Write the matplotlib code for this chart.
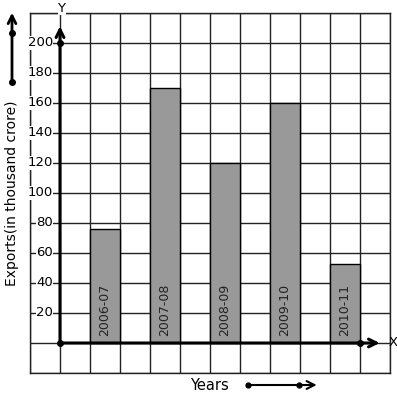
import matplotlib.pyplot as plt
import numpy as np

years = ['2006-07', '2007-08', '2008-09', '2009-10', '2010-11']
exports = [76, 170, 120, 160, 53]
bar_pos = [1.5, 3.5, 5.5, 7.5, 9.5]
y_ticks = [20, 40, 60, 80, 100, 120, 140, 160, 180, 200]

fig = plt.figure(figsize=(3.97, 3.99), dpi=100)
W, H = 397, 399
ax = fig.add_axes([30 / W, 1 - 373 / H, 360 / W, 360 / H])
ax.set_xlim(-1, 11)
ax.set_ylim(-20, 220)

# grid
ax.set_xticks(np.arange(-1, 12, 1))
ax.set_yticks(np.arange(-20, 221, 20))
ax.grid(True, color='#222222', linewidth=1)
ax.set_axisbelow(True)
ax.tick_params(length=0, labelbottom=False, labelleft=False)
for s in ax.spines.values():
    s.set_color('#222222')
    s.set_linewidth(1)

ax.bar(bar_pos, exports, width=1, color='#999999', edgecolor='black', linewidth=1, zorder=2)
for x, lab in zip(bar_pos, years):
    ax.text(x, 5, lab, rotation=90, ha='center', va='bottom', fontsize=9, color='#222222', zorder=3)

# axes with arrows
ax.annotate('', xy=(0, 213), xytext=(0, 0),
            arrowprops=dict(arrowstyle='->', lw=2.2, color='black', mutation_scale=14),
            annotation_clip=False, zorder=4)
ax.annotate('', xy=(10.75, 0), xytext=(0, 0),
            arrowprops=dict(arrowstyle='->', lw=2.2, color='black', mutation_scale=14),
            annotation_clip=False, zorder=4)
ax.plot([0, 0, 10], [0, 200, 0], 'o', color='black', markersize=4, zorder=5, clip_on=False)
ax.text(10.95, 0, 'X', ha='left', va='center', fontsize=9.5)
ax.text(0.05, 223, 'Y', ha='center', va='center', fontsize=9.5, clip_on=False,
        bbox=dict(facecolor='white', edgecolor='none', pad=0))

for v in y_ticks:
    ax.text(-0.23, v, str(v), ha='right', va='center', fontsize=9.5, zorder=3,
            bbox=dict(facecolor='white', edgecolor='none', pad=0.3))

fig.text(12 / W, 1 - 193 / H, 'Exports(in thousand crore)', rotation=90,
         ha='center', va='center', fontsize=10)

# decorative arrows
ax.annotate('', xy=(-1.6, 222), xytext=(-1.6, 174),
            arrowprops=dict(arrowstyle='->', lw=2, color='black', mutation_scale=14),
            annotation_clip=False)
ax.plot([-1.6, -1.6], [174, 207], 'o', color='black', markersize=4, clip_on=False)
ax.text(4.97, -28, 'Years', ha='center', va='center', fontsize=10.5)
ax.annotate('', xy=(8.65, -28), xytext=(6.27, -28),
            arrowprops=dict(arrowstyle='->', lw=1.5, color='black', mutation_scale=14),
            annotation_clip=False)
ax.plot([6.27, 7.97], [-28, -28], 'o', color='black', markersize=3.5, clip_on=False)

plt.savefig('out.png', dpi=100)
